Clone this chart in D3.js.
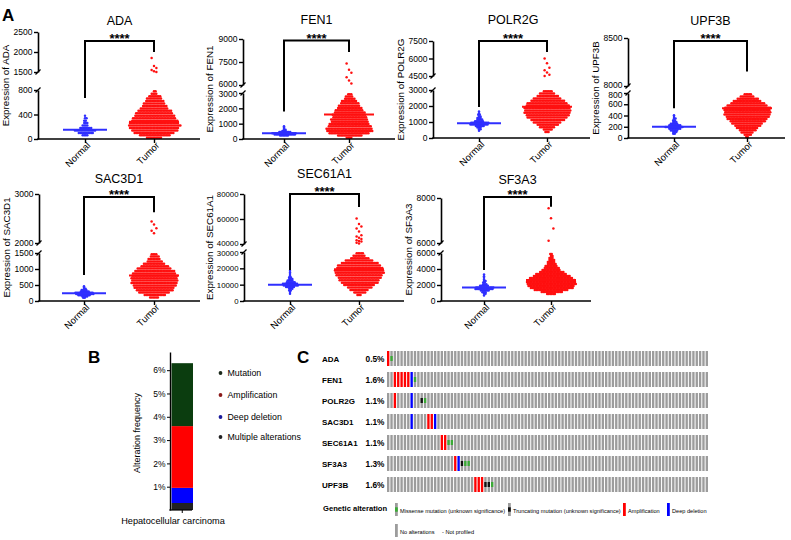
<!DOCTYPE html>
<html><head><meta charset="utf-8">
<script src="https://cdn.jsdelivr.net/npm/d3@7"></script>
<style>
body{margin:0;background:#fff}
svg{display:block}
text{font-family:Arial,"Liberation Sans",sans-serif;fill:#000}
</style>
</head><body>
<svg id="c" width="791" height="540"></svg>
<script>
// ---------------- DATA: panel A ----------------
const genes = ["ADA","FEN1","POLR2G","UPF3B","SAC3D1","SEC61A1","SF3A3"];
const groups = ["Normal","Tumor"];
const lowDomain  = [[0,800],[0,3000],[0,3000],[0,800],[0,1500],[0,30000],[0,6000]];
const highDomain = [[1500,2500],[6000,9000],[4500,7500],[8000,8500],[2000,3000],[40000,80000],[6000,8000]];
const lowTicks  = [[0,400,800],[0,1000,2000,3000],[0,1000,2000,3000],[0,200,400,600,800],[0,500,1000,1500],[0,10000,20000,30000],[0,2000,4000,6000]];
const highTicks = [[1500,2000,2500],[6000,7500,9000],[4500,6000,7500],[8000,8500],[2000,3000],[40000,60000,80000],[6000,8000]];
const normalMean = [150,380,920,200,240,10000,1700];
const tumorMean  = [280,1600,1960,528,800,19400,2625];
// [value, number of samples] read per row of the dot plots
const normalBins = [
 [[60,4],[100,10],[140,14],[180,8],[220,4],[260,3],[300,2],[340,2],[380,1]],
 [[225,6],[300,14],[375,16],[450,8],[525,3],[600,2],[675,1],[750,1],[825,1]],
 [[450,1],[550,2],[650,3],[750,6],[850,12],[950,12],[1050,6],[1150,4],[1250,3],[1350,2],[1450,2],[1550,1],[1650,1]],
 [[75,2],[105,3],[135,5],[165,8],[195,12],[225,8],[255,5],[285,3],[315,2],[345,2],[375,1],[405,1]],
 [[100,2],[140,4],[180,8],[220,12],[260,12],[300,6],[340,4],[380,2],[420,1],[460,1]],
 [[4500,1],[5500,1],[6500,2],[7500,3],[8500,6],[9500,10],[10500,10],[11500,6],[12500,4],[13500,3],[14500,2],[15500,1],[16500,1],[17500,1],[18500,1]],
 [[700,1],[900,2],[1100,3],[1300,6],[1500,12],[1700,12],[1900,6],[2100,3],[2300,2],[2500,2],[2700,1],[2900,1],[3100,1],[3300,1]]
];
const tumorBins = [
 [[20,10],[60,20],[100,26],[140,30],[180,32],[220,34],[260,32],[300,30],[340,28],[380,26],[420,24],[460,22],[500,18],[540,16],[580,14],[620,12],[660,10],[700,8],[740,4],[780,2]],
 [[75,4],[225,16],[375,26],[525,30],[675,30],[825,28],[975,26],[1125,24],[1275,24],[1425,22],[1575,22],[1725,20],[1875,18],[2025,16],[2175,14],[2325,12],[2475,10],[2625,7],[2775,5],[2925,3]],
 [[375,3],[525,6],[675,10],[825,14],[975,18],[1125,22],[1275,26],[1425,28],[1575,30],[1725,30],[1875,30],[2025,28],[2175,26],[2325,22],[2475,18],[2625,14],[2775,10],[2925,6]],
 [[20,2],[60,5],[100,8],[140,11],[180,14],[220,17],[260,20],[300,23],[340,26],[380,28],[420,30],[460,30],[500,30],[540,30],[580,26],[620,22],[660,18],[700,14],[740,9],[780,5]],
 [[112,6],[188,14],[262,20],[338,24],[412,26],[488,28],[562,30],[638,30],[712,30],[788,30],[862,28],[938,26],[1012,22],[1088,18],[1162,14],[1238,10],[1312,8],[1388,6],[1462,4]],
 [[3750,3],[5250,8],[6750,12],[8250,16],[9750,20],[11250,24],[12750,26],[14250,28],[15750,30],[17250,32],[18750,32],[20250,30],[21750,28],[23250,24],[24750,18],[26250,12],[27750,8],[29250,5]],
 [[875,6],[1125,14],[1375,22],[1625,28],[1875,30],[2125,32],[2375,32],[2625,30],[2875,28],[3125,24],[3375,20],[3625,16],[3875,12],[4125,10],[4375,8],[4625,6],[4875,5],[5125,4],[5375,3],[5625,2],[5875,2]]
];
const tumorOutliers = [
 [1850,1650,1600,1550,1520,1500],
 [7400,7000,6800,6500,6300,6100],
 [6000,5600,5200,5000,4800,4600,4500],
 [],
 [2440,2380,2300,2250,2200],
 [60500,56000,54000,52500,50000,47000,46000,45000,44000,43000,42500,42000,41000,40500],
 [7550,7100,6650,6100]
];
// significance bracket: [top, left leg end, right leg end] in axis units
const brackets = [[2275,670,2000],[8900,1800,8150],[7500,1940,6560],[8470,530,8150],[2940,810,2630],[80000,19000,69600],[8040,3875,7610]];
const sigLabel = "****";

// ---------------- DATA: panel B ----------------
const bCategory = "Hepatocellular carcinoma";
const bSeries = ["Multiple alterations","Deep deletion","Amplification","Mutation"];
const bValues = [0.3, 0.65, 2.65, 2.7];   // % of cases
const bTicks = [1,2,3,4,5,6];
const bLegend = ["Mutation","Amplification","Deep deletion","Multiple alterations"];

// ---------------- DATA: panel C ----------------
const oncoGenes = ["ADA","FEN1","POLR2G","SAC3D1","SEC61A1","SF3A3","UPF3B"];
const oncoPct = ["0.5%","1.6%","1.1%","1.1%","1.1%","1.3%","1.6%"];
const nSamples = 96;
const oncoAlt = [
 [[0,"amp"],[1,"mis"]],
 [[2,"amp"],[3,"amp"],[4,"amp"],[5,"amp"],[6,"amp"],[7,"del"],[8,"mis"]],
 [[2,"amp"],[7,"del"],[10,"trunc"],[11,"mis"]],
 [[7,"del"],[12,"amp"],[13,"amp"],[14,"del"]],
 [[16,"amp"],[17,"amp"],[18,"mis"],[19,"mis"]],
 [[20,"amp"],[21,"del"],[22,"trunc"],[23,"mis"],[24,"mis"]],
 [[26,"amp"],[27,"amp"],[28,"amp"],[29,"trunc"],[30,"trunc"],[31,"mis"]]
];
const legendRow1 = [["mis","Missense mutation (unknown significance)"],["trunc","Truncating mutation (unknown significance)"],["amp","Amplification"],["del","Deep deletion"]];
const legendRow2 = [["none","No alterations"],["np","- Not profiled"]];

// ---------------- LAYOUT / STYLE ----------------
const layoutA = [
 {ax:38,  len:162, c:[47,116], y0:139, yl:90,  yu:72,  yt:32,  ty:25,  lx:-29, fs:8.5},
 {ax:243, len:152, c:[41,106], y0:139, yl:93,  yu:85,  yt:39,  ty:24,  lx:-30, fs:8.5},
 {ax:433, len:157, c:[46,114], y0:138, yl:90,  yu:76,  yt:41,  ty:24,  lx:-29, fs:8.5},
 {ax:628, len:157, c:[46,119], y0:138, yl:93,  yu:86,  yt:38,  ty:25,  lx:-29, fs:8.5},
 {ax:39,  len:161, c:[45,115], y0:301, yl:253, yu:243, yt:194, ty:183, lx:-29, fs:8.5},
 {ax:244, len:160, c:[46,115], y0:301, yl:252, yu:244, yt:194, ty:178, lx:-31, fs:7.8},
 {ax:441, len:150, c:[43,110], y0:301, yl:253, yu:243, yt:198, ty:184, lx:-29, fs:8.5}
];
const colNormal = "#2f2fff", colTumor = "#ff1010";
const oncoColors = {amp:"#ff0000", del:"#0000ff", mis:"#3aaa35", trunc:"#111111"};
const grayBar = "#9c9c9c";

const svg = d3.select("#c");

// Panel letters
[["A",2,21],["B",88,363],["C",297,363]].forEach(([t,x,y])=>{
  svg.append("text").attr("x",x).attr("y",y).attr("font-size",17).attr("font-weight","bold").text(t);
});

// ---------------- Panel A ----------------
genes.forEach((g,i)=>{
  const L = layoutA[i];
  const lo = d3.scaleLinear().domain(lowDomain[i]).range([L.y0, L.yl]);
  const hi = d3.scaleLinear().domain(highDomain[i]).range([L.yu, L.yt]);
  const gap = d3.scaleLinear().domain([lowDomain[i][1], highDomain[i][0]]).range([L.yl, L.yu]);
  const y = v => v <= lowDomain[i][1] ? lo(v) : (v >= highDomain[i][0] ? hi(v) : gap(v));
  const x = d3.scalePoint().domain(groups).range([L.ax+L.c[0], L.ax+L.c[1]]);
  const G = svg.append("g");
  const sp = 1.55, r = 1.25;

  // dots
  const dots = [];
  [[normalBins[i],"Normal"],[tumorBins[i],"Tumor"]].forEach(([bins,grp])=>{
    bins.forEach(([v,n],bi)=>{
      const shift = (bi%2) ? sp/2 : 0;
      for(let j=0;j<n;j++) dots.push({grp, v, dx:(j-(n-1)/2)*sp + (n>1?shift:0)});
    });
  });
  tumorOutliers[i].forEach((v,k)=>dots.push({grp:"Tumor", v, dx:((k%3)-1)*2.4}));
  G.selectAll("circle.d").data(dots).join("circle")
    .attr("cx",d=>x(d.grp)+d.dx).attr("cy",d=>y(d.v)).attr("r",r)
    .attr("fill",d=>d.grp==="Normal"?colNormal:colTumor);

  // mean lines
  G.append("line").attr("x1",x("Normal")-22).attr("x2",x("Normal")+22)
    .attr("y1",y(normalMean[i])).attr("y2",y(normalMean[i])).attr("stroke",colNormal).attr("stroke-width",2);
  G.append("line").attr("x1",x("Tumor")-25).attr("x2",x("Tumor")+25)
    .attr("y1",y(tumorMean[i])).attr("y2",y(tumorMean[i])).attr("stroke",colTumor).attr("stroke-width",2);

  // y axes (broken)
  const nudge = Math.max(0,(10.2-(L.yl-L.yu))/2);
  const styleAxis = (sel, edgeVal, dir) => {
    sel.select(".domain").attr("stroke","#000").attr("stroke-width",1.6);
    sel.selectAll(".tick line").attr("stroke","#000").attr("stroke-width",1.4);
    sel.selectAll(".tick text").attr("font-size",L.fs).attr("font-family","Arial, Liberation Sans, sans-serif")
      .attr("transform",d=>d===edgeVal?`translate(0,${dir*nudge})`:null);
  };
  G.append("g").attr("transform",`translate(${L.ax},0)`)
    .call(d3.axisLeft(lo).tickValues(lowTicks[i]).tickSize(4).tickSizeOuter(0).tickPadding(1.5).tickFormat(d3.format("d")))
    .call(s=>styleAxis(s, lowDomain[i][1], 1));
  G.append("g").attr("transform",`translate(${L.ax},0)`)
    .call(d3.axisLeft(hi).tickValues(highTicks[i]).tickSize(4).tickSizeOuter(0).tickPadding(1.5).tickFormat(d3.format("d")))
    .call(s=>styleAxis(s, highDomain[i][0], -1));
  // break marks
  [L.yl, L.yu].forEach(yy=>{
    G.append("line").attr("x1",L.ax-2.5).attr("y1",yy+2.5).attr("x2",L.ax+2.5).attr("y2",yy-2.5)
      .attr("stroke","#000").attr("stroke-width",1.3);
  });

  // x axis
  G.append("line").attr("x1",L.ax-0.8).attr("x2",L.ax+L.len).attr("y1",L.y0).attr("y2",L.y0)
    .attr("stroke","#000").attr("stroke-width",1.6);
  const xa = G.append("g").attr("transform",`translate(0,${L.y0})`)
    .call(d3.axisBottom(x).tickSize(4).tickSizeOuter(0).tickFormat(""));
  xa.select(".domain").remove();
  xa.selectAll(".tick line").attr("stroke","#000").attr("stroke-width",1.4);
  groups.forEach(gr=>{
    G.append("text").attr("transform",`translate(${x(gr)+6},${L.y0+7}) rotate(-45)`)
      .attr("text-anchor","end").attr("font-size",9.5).text(gr);
  });

  // y label
  G.append("text").attr("transform",`translate(${L.ax+L.lx},${(L.y0+L.yt)/2}) rotate(-90)`)
    .attr("text-anchor","middle").attr("font-size",9.8).text("Expression of "+g);
  // title
  G.append("text").attr("x",(x("Normal")+x("Tumor"))/2).attr("y",L.ty)
    .attr("text-anchor","middle").attr("font-size",12.5).text(g);

  // bracket
  const [bt,bl,br] = brackets[i];
  G.append("path").attr("d",`M${x("Normal")},${y(bl)}V${y(bt)}H${x("Tumor")}V${y(br)}`)
    .attr("fill","none").attr("stroke","#000").attr("stroke-width",2);
  G.append("text").attr("x",(x("Normal")+x("Tumor"))/2).attr("y",y(bt)+2)
    .attr("text-anchor","middle").attr("font-size",13).attr("font-weight","bold").text(sigLabel);
});

// ---------------- Panel B ----------------
{
  const yb = d3.scaleLinear().domain([0,6.78]).range([510,352]);
  const xb = d3.scaleBand().domain([bCategory]).range([171.5,193]).padding(0);
  const colorsB = {"Multiple alterations":"#222222","Deep deletion":"#0000ff","Amplification":"#ff0000","Mutation":"#0b3d0f"};
  const legendColors = {"Mutation":"#1c2a1c","Amplification":"#8a1a1a","Deep deletion":"#1a1a9a","Multiple alterations":"#222222"};
  const cum = d3.cumsum(bValues);
  const segs = bSeries.map((s,k)=>({s, y0: k?cum[k-1]:0, y1: cum[k]}));
  const B = svg.append("g");
  B.selectAll("rect").data(segs).join("rect")
    .attr("x",xb(bCategory)).attr("width",xb.bandwidth())
    .attr("y",d=>yb(d.y1)).attr("height",d=>yb(d.y0)-yb(d.y1))
    .attr("fill",d=>colorsB[d.s]);
  const ay = B.append("g").attr("transform","translate(170,0)")
    .call(d3.axisLeft(yb).tickValues(bTicks).tickFormat(d=>d+"%").tickSize(3).tickSizeOuter(0).tickPadding(1.5));
  ay.select(".domain").attr("stroke-width",1.4);
  ay.selectAll(".tick text").attr("font-size",8.5);
  B.append("line").attr("x1",169.3).attr("x2",192).attr("y1",510).attr("y2",510).attr("stroke","#000").attr("stroke-width",1.2);
  B.append("line").attr("x1",xb(bCategory)+xb.bandwidth()/2).attr("x2",xb(bCategory)+xb.bandwidth()/2)
    .attr("y1",510).attr("y2",513).attr("stroke","#000").attr("stroke-width",1);
  B.append("text").attr("transform","translate(140,433) rotate(-90)").attr("text-anchor","middle")
    .attr("font-size",9).text("Alteration frequency");
  B.append("text").attr("x",173).attr("y",524).attr("text-anchor","middle").attr("font-size",9.2).text(bCategory);
  bLegend.forEach((s,k)=>{
    const yy = [373,395,417,437][k];
    B.append("circle").attr("cx",220.5).attr("cy",yy).attr("r",1.9).attr("fill",legendColors[s]);
    B.append("text").attr("x",227.5).attr("y",yy+3.2).attr("font-size",8.8).text(s);
  });
}

// ---------------- Panel C ----------------
{
  const C = svg.append("g");
  const xs = d3.scaleBand().domain(d3.range(nSamples)).range([387,708]).paddingInner(0.3);
  const ys = d3.scaleBand().domain(oncoGenes).range([351,492]).paddingInner(6/21);
  const bh = ys.bandwidth();
  oncoGenes.forEach((g,i)=>{
    const yy = ys(g);
    C.append("text").attr("x",322).attr("y",yy+bh/2+3).attr("font-size",8).attr("font-weight","bold").text(g);
    C.append("text").attr("x",384.5).attr("y",yy+bh/2+3).attr("text-anchor","end").attr("font-size",8.3).attr("font-weight","bold").text(oncoPct[i]);
    const alt = new Map(oncoAlt[i].map(d=>[d[0],d[1]]));
    C.selectAll(null).data(d3.range(nSamples)).join("rect")
      .attr("x",k=>xs(k)).attr("width",xs.bandwidth()).attr("y",yy).attr("height",bh)
      .attr("fill",k=>{const t=alt.get(k); return (t==="amp"||t==="del")?oncoColors[t]:grayBar;});
    C.selectAll(null).data(oncoAlt[i].filter(d=>d[1]==="mis"||d[1]==="trunc")).join("rect")
      .attr("x",d=>xs(d[0])).attr("width",xs.bandwidth()).attr("y",yy+bh/3).attr("height",bh/3)
      .attr("fill",d=>oncoColors[d[1]]);
  });
  C.append("text").attr("x",323).attr("y",511).attr("font-size",7.6).attr("font-weight","bold").text("Genetic alteration");
  const glyph = (t,gx,gy)=>{
    if(t==="np") return;
    C.append("rect").attr("x",gx).attr("y",gy).attr("width",2.8).attr("height",13)
      .attr("fill",(t==="amp"||t==="del")?oncoColors[t]:grayBar);
    if(t==="mis"||t==="trunc") C.append("rect").attr("x",gx).attr("y",gy+4.3).attr("width",2.8).attr("height",4.4).attr("fill",oncoColors[t]);
  };
  const row1x = [395,508,623,667];
  legendRow1.forEach(([t,lab],k)=>{
    glyph(t,row1x[k],503);
    C.append("text").attr("x",row1x[k]+5).attr("y",512.5).attr("font-size",5.6).text(lab);
  });
  const row2x = [395,442];
  legendRow2.forEach(([t,lab],k)=>{
    glyph(t,row2x[k],524);
    C.append("text").attr("x",row2x[k]+(t==="np"?0:5)).attr("y",533.5).attr("font-size",5.6).text(lab);
  });
}
</script>
</body></html>
